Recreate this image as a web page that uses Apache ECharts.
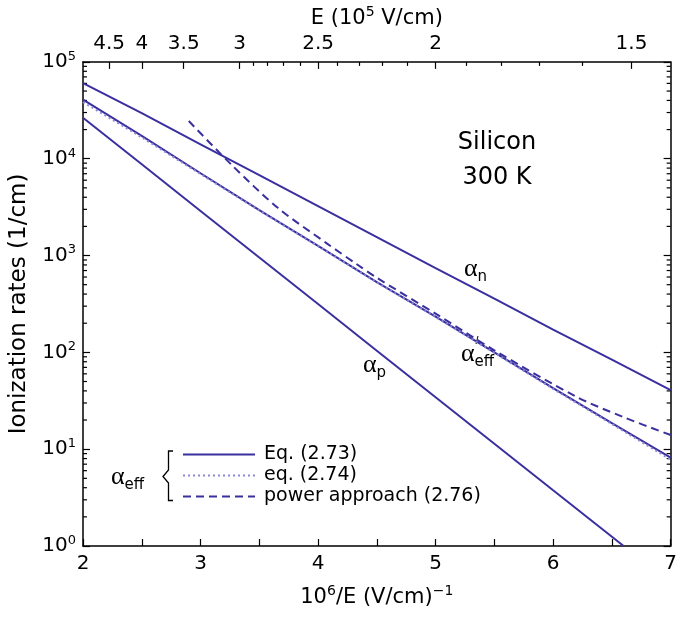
<!DOCTYPE html>
<html>
<head>
<meta charset="utf-8">
<script src="https://cdn.jsdelivr.net/npm/echarts@6/dist/echarts.min.js"></script>
<style>html,body{margin:0;padding:0;background:#fff}#c{width:680px;height:618px}</style>
</head>
<body>
<div id="c"></div>
<script>
// ---- data ----
const xInv = [2, 2.5, 3, 3.5, 4, 4.5, 5, 5.5, 6, 6.5, 7];           // 10^6/E (V/cm)^-1
const alphaN = [60300, 29500, 14100, 6760, 3240, 1550, 741, 359, 172, 84, 40.7];
const alphaPX = [2, 2.5, 3, 3.5, 4, 4.5, 5, 5.5, 6, 6.6];
const alphaP = [26500, 8750, 2890, 955, 316, 104, 34.4, 11.4, 3.76, 1.0];
const effEq273 = [40700, 17200, 7080, 2950, 1260, 532, 234, 100, 42.7, 18.6, 8.2];
const effEq274 = [38500, 16600, 6950, 2920, 1250, 528, 232, 99, 42, 18.2, 7.8];
const powerX = [2.9, 3.27, 3.66, 4.08, 4.33, 4.5, 5.0, 5.5, 6.2, 6.6, 7.0];
const powerY = [24500, 8510, 3090, 1320, 813, 589, 251, 105, 34.7, 21.4, 14.0];
const topMajorE = [4.5, 4, 3.5, 3, 2.5, 2, 1.5];                    // E (10^5 V/cm)
const topMinorE = [2.9, 2.8, 2.7, 2.6, 2.4, 2.3, 2.2, 2.1, 1.9, 1.8, 1.7, 1.6];
const seriesNames = ['Eq. (2.73)', 'eq. (2.74)', 'power approach (2.76)'];

const FONT = 'DejaVu Sans';
const C = '#3a2f9e';
const CL = '#8c88d8';
const pair = (xs, ys) => xs.map((x, i) => [x, ys[i]]);
const minorY = [];
for (let k = 0; k < 5; k++) for (let m = 2; m <= 9; m++) minorY.push([2, m * Math.pow(10, k)]);

const chart = echarts.init(document.getElementById('c'), null, {renderer: 'canvas'});
const axLine = {show: true, lineStyle: {color: '#000', width: 1.5}};
const supRich = {
  t: {fontFamily: FONT, fontSize: 21, color: '#000', lineHeight: 24, verticalAlign: 'bottom'},
  s: {fontFamily: FONT, fontSize: 14, color: '#000', lineHeight: 14, verticalAlign: 'bottom', padding: [0, 0, 10, 0]}
};
const tickRich = {
  b: {fontFamily: FONT, fontSize: 20, color: '#000', lineHeight: 20, verticalAlign: 'bottom'},
  s: {fontFamily: FONT, fontSize: 13, color: '#000', lineHeight: 13, verticalAlign: 'bottom', padding: [0, 0, 9, 0]}
};
const alphaRich = {
  a: {fontFamily: 'Liberation Serif', fontSize: 26, fill: '#000', verticalAlign: 'bottom', lineHeight: 24},
  s: {fontFamily: FONT, fontSize: 15, fill: '#000', verticalAlign: 'bottom', lineHeight: 15, padding: [0, 0, -3, 0]}
};

chart.setOption({
  animation: false,
  backgroundColor: '#fff',
  grid: {left: 82, top: 55, width: 595, height: 491, containLabel: false},
  xAxis: [
    {type: 'value', position: 'bottom', min: 2, max: 7, interval: 1,
     axisLine: axLine, splitLine: {show: false},
     axisTick: {inside: true, length: 7, lineStyle: {color: '#000', width: 1.2}},
     minorTick: {show: true, splitNumber: 2, length: 7, lineStyle: {color: '#000', width: 1.2}},
     axisLabel: {fontFamily: FONT, fontSize: 20, color: '#000', margin: 8},
     name: '{t|10}{s|6}{t|/E (V/cm)}{s|\u22121}', nameLocation: 'middle', nameGap: 38,
     nameTextStyle: {rich: supRich}},
    {type: 'value', position: 'top', min: 2, max: 7,
     axisLine: axLine, splitLine: {show: false},
     axisTick: {inside: true, length: 7, lineStyle: {color: '#000', width: 1.2}, customValues: topMajorE.map(e => 10 / e)},
     axisLabel: {fontFamily: FONT, fontSize: 20, color: '#000', margin: 8, customValues: topMajorE.map(e => 10 / e),
       formatter: v => String(Math.round(100 / v) / 10)},
     name: '{t|E (10}{s|5}{t| V/cm)}', nameLocation: 'middle', nameGap: 32,
     nameTextStyle: {rich: supRich}},
    {type: 'value', position: 'top', min: 2, max: 7,
     axisLine: {show: false}, splitLine: {show: false}, axisLabel: {show: false},
     axisTick: {inside: true, length: 4, lineStyle: {color: '#000', width: 1.2}, customValues: topMinorE.map(e => 10 / e)}}
  ],
  yAxis: [
    {type: 'log', logBase: 10, min: 1, max: 100000, position: 'left',
     axisLine: axLine, splitLine: {show: false},
     axisTick: {inside: true, length: 7, lineStyle: {color: '#000', width: 1.2}},
     axisLabel: {margin: 7, formatter: v => '{b|10}{s|' + Math.round(Math.log10(v)) + '}', rich: tickRich},
     name: 'Ionization rates (1/cm)', nameLocation: 'middle', nameGap: 52,
     nameTextStyle: {fontFamily: FONT, fontSize: 23, color: '#000'}},
    {type: 'log', logBase: 10, min: 1, max: 100000, position: 'right',
     axisLine: axLine, splitLine: {show: false}, axisLabel: {show: false},
     axisTick: {inside: true, length: 7, lineStyle: {color: '#000', width: 1.2}}}
  ],
  legend: {
    show: true, data: seriesNames, orient: 'vertical', left: 182, top: 444,
    itemWidth: 72, itemHeight: 14, itemGap: 0, padding: 0, selectedMode: false,
    itemStyle: {opacity: 0, borderWidth: 0},
    textStyle: {fontFamily: FONT, fontSize: 19, color: '#000', lineHeight: 21, padding: [0, 0, 0, 4]}
  },
  series: [
    {name: 'alpha_n', type: 'line', data: pair(xInv, alphaN), showSymbol: false, symbol: 'none',
     lineStyle: {color: C, width: 2}, itemStyle: {color: C}, z: 3},
    {name: 'alpha_p', type: 'line', data: pair(alphaPX, alphaP), showSymbol: false, symbol: 'none',
     lineStyle: {color: C, width: 2}, itemStyle: {color: C}, z: 3},
    {name: seriesNames[0], type: 'line', data: pair(xInv, effEq273), showSymbol: false, symbol: 'none',
     lineStyle: {color: C, width: 2}, itemStyle: {color: C}, z: 3},
    {name: seriesNames[1], type: 'line', data: pair(xInv, effEq274), showSymbol: false, symbol: 'none',
     lineStyle: {color: CL, width: 2, type: [2, 3]}, itemStyle: {color: CL}, z: 4},
    {name: seriesNames[2], type: 'line', data: pair(powerX, powerY), showSymbol: false, symbol: 'none',
     smooth: 0.3,
     lineStyle: {color: C, width: 2, type: [8, 5]}, itemStyle: {color: C}, z: 3},
    {name: 'minorTicksY', type: 'custom', data: minorY, silent: true, clip: false,
     encode: {x: 0, y: 1},
     renderItem: (params, api) => {
       const v = api.value(1);
       const pl = api.coord([2, v]);
       const pr = api.coord([7, v]);
       const st = {stroke: '#000', lineWidth: 1.2};
       return {type: 'group', children: [
         {type: 'line', shape: {x1: pl[0], y1: pl[1], x2: pl[0] + 4, y2: pl[1]}, style: st},
         {type: 'line', shape: {x1: pr[0] - 4, y1: pr[1], x2: pr[0], y2: pr[1]}, style: st}
       ]};
     }}
  ],
  graphic: [
    {type: 'text', style: {text: 'Silicon', x: 497, y: 143, align: 'center', verticalAlign: 'middle',
      font: '24px "DejaVu Sans"', fill: '#000'}},
    {type: 'text', style: {text: '300 K', x: 497, y: 178, align: 'center', verticalAlign: 'middle',
      font: '24px "DejaVu Sans"', fill: '#000'}},
    {type: 'text', style: {text: '{a|\u03b1}{s|n}', x: 464, y: 270, verticalAlign: 'middle', rich: alphaRich}},
    {type: 'text', style: {text: '{a|\u03b1}{s|p}', x: 363, y: 366, verticalAlign: 'middle', rich: alphaRich}},
    {type: 'text', style: {text: '{a|\u03b1}{s|eff}', x: 461, y: 355, verticalAlign: 'middle', rich: alphaRich}},
    {type: 'line', shape: {x1: 476, y1: 344, x2: 478, y2: 336}, style: {stroke: '#000', lineWidth: 1}},
    {type: 'text', style: {text: '{a|\u03b1}{s|eff}', x: 111, y: 478, verticalAlign: 'middle', rich: alphaRich}},
    {type: 'polyline', shape: {points: [[173, 451], [168.5, 451], [168.5, 470], [163, 476.5], [168.5, 483], [168.5, 500.5], [173, 500.5]]},
     style: {stroke: '#000', lineWidth: 1.3, fill: null}}
  ]
});
</script>
</body>
</html>
